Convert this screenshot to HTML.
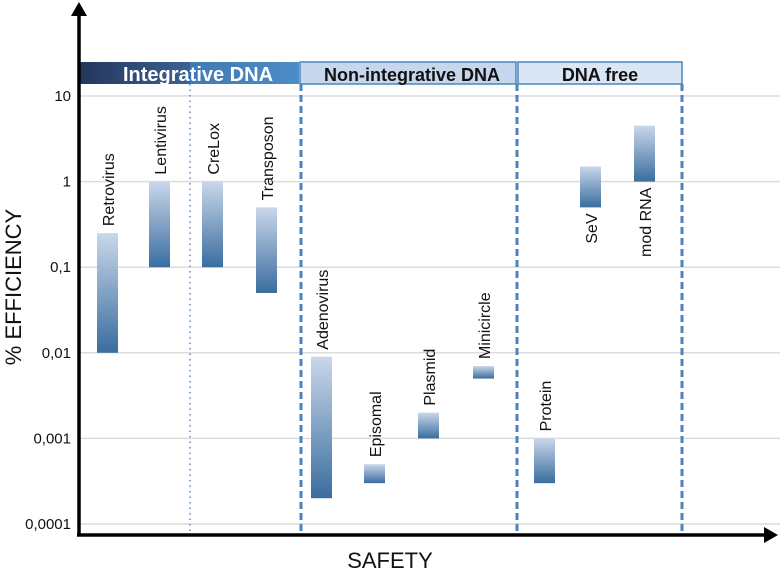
<!DOCTYPE html>
<html><head><meta charset="utf-8"><style>
body{margin:0;background:#fff}
svg{display:block;font-family:"Liberation Sans",sans-serif}
</style></head><body>
<svg id="c" width="780" height="575" viewBox="0 0 780 575">
<defs>
<linearGradient id="bg" x1="0" y1="0" x2="0" y2="1"><stop offset="0" stop-color="#c9d7ea"/><stop offset="1" stop-color="#3a6d9f"/></linearGradient>
<linearGradient id="h1" x1="0" y1="0" x2="1" y2="0"><stop offset="0" stop-color="#24375c"/><stop offset="1" stop-color="#3d6193"/></linearGradient>
<linearGradient id="h2" x1="0" y1="0" x2="1" y2="0"><stop offset="0" stop-color="#3e7ab5"/><stop offset="1" stop-color="#4f8cc6"/></linearGradient>
</defs>
<g id="grid"></g>
<g id="headers">
<rect x="80" y="62" width="110" height="22" fill="url(#h1)"/>
<rect x="190" y="62" width="109" height="22" fill="url(#h2)"/>
<rect x="300" y="62" width="216" height="22" fill="#c6d6ec" stroke="#4a85be" stroke-width="1.5"/>
<rect x="518" y="62" width="164" height="22" fill="#dae6f4" stroke="#4a85be" stroke-width="1.5"/>
<text x="198" y="81" text-anchor="middle" font-size="20" font-weight="bold" fill="#fff">Integrative DNA</text>
<text x="412" y="81" text-anchor="middle" font-size="18" font-weight="bold" fill="#111">Non-integrative DNA</text>
<text x="600" y="81" text-anchor="middle" font-size="18" font-weight="bold" fill="#111">DNA free</text>
</g>
<line x1="190" y1="84" x2="190" y2="532" stroke="#5a8fc4" stroke-width="1.5" stroke-dasharray="1.5 4"/>
<line x1="301" y1="84" x2="301" y2="532" stroke="#4a85be" stroke-width="3" stroke-dasharray="7 4"/>
<line x1="517" y1="84" x2="517" y2="532" stroke="#4a85be" stroke-width="3" stroke-dasharray="7 4"/>
<line x1="682" y1="84" x2="682" y2="532" stroke="#4a85be" stroke-width="3" stroke-dasharray="7 4"/>
<g id="bars"></g>
<g id="axes">
<line x1="79" y1="12" x2="79" y2="536" stroke="#000" stroke-width="3.5"/>
<polygon points="79,2 71,16 87,16" fill="#000"/>
<line x1="77" y1="535" x2="768" y2="535" stroke="#000" stroke-width="3.5"/>
<polygon points="778,535 764,527 764,543" fill="#000"/>
<text x="390" y="568" text-anchor="middle" font-size="22" fill="#111">SAFETY</text>
<text transform="translate(21,287) rotate(-90)" text-anchor="middle" font-size="22" fill="#111">% EFFICIENCY</text>
</g>
</svg>
<script>
const tickValues=[10,1,0.1,0.01,0.001,0.0001];
const tickLabels=["10","1","0,1","0,01","0,001","0,0001"];
const categories=["Retrovirus","Lentivirus","CreLox","Transposon","Adenovirus","Episomal","Plasmid","Minicircle","Protein","SeV","mod RNA"];
const catX=[108,160,213,267,322,375,429,484,545,591,645];
const highValues=[0.25,1,1,0.5,0.009,0.0005,0.002,0.007,0.001,1.5,4.5];
const lowValues=[0.01,0.1,0.1,0.05,0.0002,0.0003,0.001,0.005,0.0003,0.5,1];
const labelBelow=[false,false,false,false,false,false,false,false,false,true,true];
const NS="http://www.w3.org/2000/svg";
function y(v){return 96+(1-Math.log10(v))*85.6;}
const grid=document.getElementById('grid');
tickValues.forEach((v,i)=>{
 const l=document.createElementNS(NS,'line');
 l.setAttribute('x1',80);l.setAttribute('x2',780);l.setAttribute('y1',y(v));l.setAttribute('y2',y(v));
 l.setAttribute('stroke','#dcdcdc');l.setAttribute('stroke-width','1.5');
 
 
 grid.appendChild(l);
 const t=document.createElementNS(NS,'text');
 t.setAttribute('x',71);t.setAttribute('y',y(v)+5);t.setAttribute('text-anchor','end');t.setAttribute('font-size','15');t.setAttribute('fill','#111');
 t.textContent=tickLabels[i];
 
 
 grid.appendChild(t);
});
const bars=document.getElementById('bars');
categories.forEach((c,i)=>{
 const top=y(highValues[i]),bot=y(lowValues[i]);
 const r=document.createElementNS(NS,'rect');
 r.setAttribute('x',catX[i]-11);r.setAttribute('width',21);r.setAttribute('y',top);r.setAttribute('height',bot-top);
 r.setAttribute('fill','url(#bg)');
 
 
 bars.appendChild(r);
 const t=document.createElementNS(NS,'text');
 if(labelBelow[i]){
  t.setAttribute('transform','translate('+(catX[i]+6)+','+(bot+6)+') rotate(-90)');
  t.setAttribute('text-anchor','end');
 } else {
  t.setAttribute('transform','translate('+(catX[i]+6)+','+(top-7)+') rotate(-90)');
 }
 t.setAttribute('font-size','16');t.setAttribute('fill','#111');
 t.textContent=c;
 
 
 bars.appendChild(t);
});
</script>
</body></html>
